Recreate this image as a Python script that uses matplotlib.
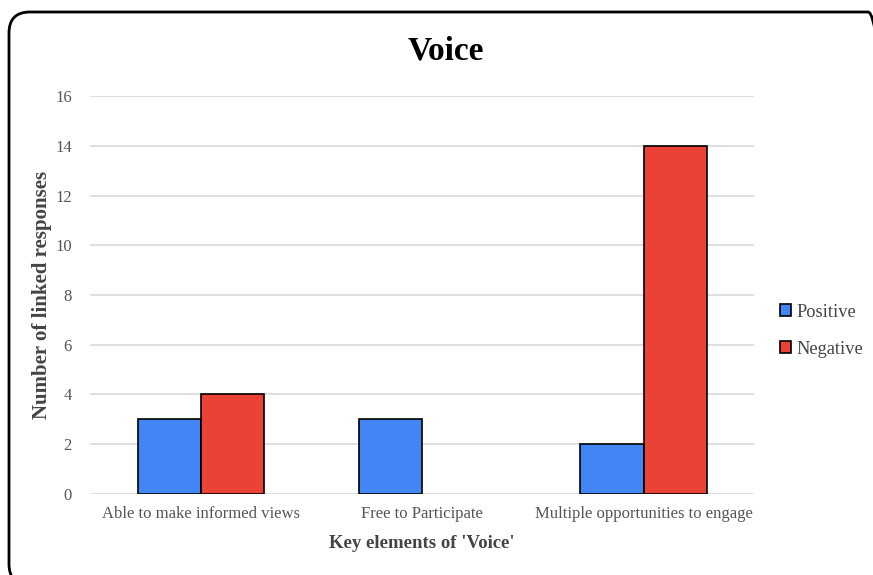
import matplotlib.pyplot as plt
import numpy as np
from matplotlib.patches import FancyBboxPatch, Patch

plt.rcParams['font.family'] = ['Liberation Serif', 'DejaVu Serif']

# responses per element of 'Voice'
categories = ['Able to make informed views', 'Free to Participate',
              'Multiple opportunities to engage']
positive = [3, 3, 2]
negative = [4, 0, 14]

fig = plt.figure(figsize=(8.73, 5.75), dpi=100)
ax = fig.add_axes([0.103, 0.141, 0.761, 0.692])

x = np.arange(len(categories))
w = 0.285
ax.bar(x - w / 2, positive, w, color='#4285f4', edgecolor='black', linewidth=1.2,
       label='Positive', zorder=3)
neg = np.array(negative, dtype=float)
ax.bar(x[neg > 0] + w / 2, neg[neg > 0], w, color='#ea4335', edgecolor='black',
       linewidth=1.2, label='Negative', zorder=3)

ax.set_xlim(-0.5, 2.5)
ax.set_ylim(0, 16)
ax.set_yticks(range(0, 17, 2))
ax.set_xticks(x)
ax.set_xticklabels(categories)
ax.grid(axis='y', color='#d9d9d9', linewidth=1.2, zorder=0)
for s in ax.spines.values():
    s.set_visible(False)
ax.tick_params(length=0, labelsize=12, labelcolor='#555555', pad=9)
ax.tick_params(axis='y', pad=13)

ax.set_xlabel("Key elements of 'Voice'", fontsize=13.5, fontweight='bold',
              color='#444444', labelpad=9)
ax.set_ylabel('Number of linked responses', fontsize=15, fontweight='bold',
              color='#444444', labelpad=2)
fig.text(0.511, 0.912, 'Voice', ha='center', va='center', fontsize=24,
         fontweight='bold')

handles = [Patch(facecolor='#4285f4', edgecolor='black', linewidth=1.2, label='Positive'),
           Patch(facecolor='#ea4335', edgecolor='black', linewidth=1.2, label='Negative')]
fig.legend(handles=handles, loc='center left', bbox_to_anchor=(0.874, 0.425),
           frameon=False, fontsize=13.2, handlelength=0.65, handleheight=0.65,
           handletextpad=0.25, labelspacing=1.1, labelcolor='#444444')

# rounded frame around the chart
frame = FancyBboxPatch((9 / 873, -10 / 575), 880 / 873, 573 / 575,
                       boxstyle='round,pad=0,rounding_size=0.024',
                       transform=fig.transFigure, fill=False,
                       edgecolor='black', linewidth=2, mutation_aspect=873 / 575)
fig.patches.append(frame)

fig.savefig('out.png', dpi=100)
